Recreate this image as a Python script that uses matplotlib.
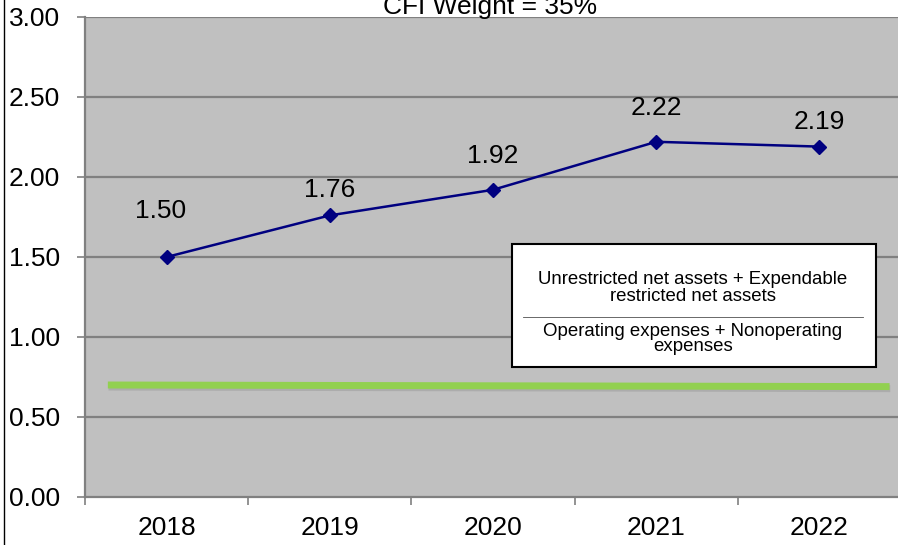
import matplotlib.pyplot as plt
import matplotlib.patheffects as pe
from matplotlib.lines import Line2D
import numpy as np

plt.rcParams['font.family'] = ['Liberation Sans', 'DejaVu Sans']

years = ['2018', '2019', '2020', '2021', '2022']
ratio = [1.50, 1.76, 1.92, 2.22, 2.19]
ratio_labels = ['1.50', '1.76', '1.92', '2.22', '2.19']
yticks = [0.0, 0.5, 1.0, 1.5, 2.0, 2.5, 3.0]
ytick_labels = ['0.00', '0.50', '1.00', '1.50', '2.00', '2.50', '3.00']
# threshold bar drawn across the plot (category units, value)
thresh_x = [-0.36, 4.43]
thresh_y = [0.70, 0.69]

title = 'CFI Weight = 35%'
numerator = 'Unrestricted net assets + Expendable\nrestricted net assets'
denominator = 'Operating expenses + Nonoperating\nexpenses'

bg_color = '#C0C0C0'
grid_color = '#808080'
line_color = '#000080'

fig = plt.figure(figsize=(8.98, 5.45), dpi=100, facecolor='white')
ax = fig.add_axes([85 / 898, 48 / 545, 816 / 898, 480 / 545])
ax.set_facecolor(bg_color)

x = np.arange(len(years))
ax.set_xlim(-0.5, len(years) - 0.5)
ax.set_ylim(0, 3)

for yv in yticks[1:]:
    ax.axhline(yv, color=grid_color, linewidth=1.6, zorder=1)

ax.plot(thresh_x, thresh_y, color='#92D050', linewidth=5, solid_capstyle='butt', zorder=2,
        path_effects=[pe.SimpleLineShadow(offset=(0.5, -1.5), shadow_color='#808080', alpha=0.3),
                      pe.Normal()])

ax.plot(x, ratio, color=line_color, linewidth=1.8, marker='D', markersize=7.5,
        markerfacecolor=line_color, markeredgecolor=line_color, zorder=3)

label_dy = [33, 18, 24, 24, 18]
label_dx = [-4, 0, 0, 0, 0]
for xi, yi, lab, dx, dy in zip(x, ratio, ratio_labels, label_dx, label_dy):
    ax.annotate(lab, (xi, yi), xytext=(dx, dy), textcoords='offset points',
                ha='center', va='center', fontsize=19, color='black', zorder=4)

ax.set_yticks(yticks)
ax.set_yticklabels(ytick_labels)
ax.set_xticks(x)
ax.set_xticklabels(years)
ax.set_xticks(np.arange(len(years) + 1) - 0.5, minor=True)
ax.tick_params(axis='x', which='major', length=0, pad=14, labelsize=19)
ax.tick_params(axis='x', which='minor', length=6, width=1.2, color=grid_color, direction='out')
ax.tick_params(axis='y', length=6, width=1.2, color=grid_color, pad=12, labelsize=19)

for name, spine in ax.spines.items():
    spine.set_visible(name in ('left', 'bottom'))
    spine.set_color(grid_color)
    spine.set_linewidth(1.6)

# formula box
bx0, by0, bx1, by1 = 512 / 898, (545 - 367) / 545, 876 / 898, (545 - 244) / 545
fig.patches.append(plt.Rectangle((bx0, by0), bx1 - bx0, by1 - by0, transform=fig.transFigure,
                                 facecolor='white', edgecolor='black', linewidth=1.5, zorder=5))
fig.text(693 / 898, (545 - 288) / 545, numerator, ha='center', va='center', fontsize=13.4,
         linespacing=1.0, zorder=6)
fig.add_artist(Line2D([523 / 898, 863 / 898], [(545 - 317) / 545] * 2, transform=fig.transFigure,
                      color='#505050', linewidth=0.6, zorder=6))
fig.text(693 / 898, (545 - 339) / 545, denominator, ha='center', va='center', fontsize=13.4,
         linespacing=0.85, zorder=6)

fig.text(490 / 898, (545 - 14) / 545, title, ha='center', va='baseline', fontsize=19)
fig.add_artist(Line2D([4 / 898, 4 / 898], [0, 1], transform=fig.transFigure,
                      color='black', linewidth=1))

fig.savefig('out.png', dpi=100, facecolor='white')
